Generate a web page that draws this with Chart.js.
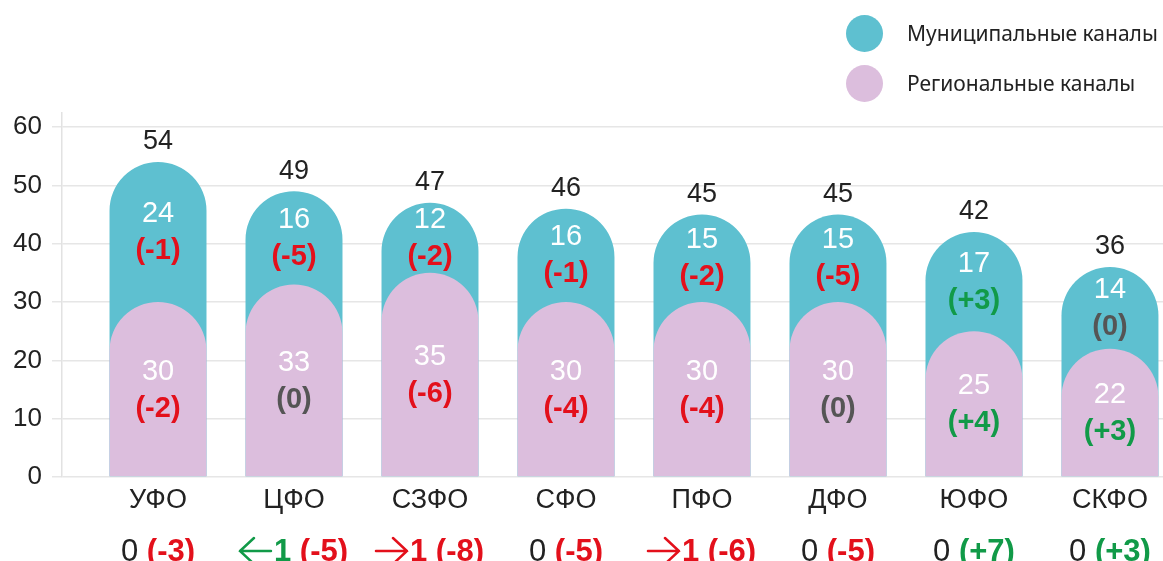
<!DOCTYPE html>
<html>
<head>
<meta charset="utf-8">
<script src="https://cdn.jsdelivr.net/npm/chart.js@4.4.1/dist/chart.umd.min.js"></script>
<style>
  html, body { margin: 0; padding: 0; background: #fff; }
  #wrap { position: relative; width: 1163px; height: 561px; }
  #legend { position: absolute; left: 846px; top: 8px; font-family: 'Noto Sans', sans-serif; font-size: 21px; color: #222; }
  .item { display: flex; align-items: center; height: 50px; }
  .dot { width: 37px; height: 37px; border-radius: 50%; margin-right: 24px; }
</style>
</head>
<body>
<div id="wrap">
  <canvas id="chart" width="1163" height="561"></canvas>
  <div id="legend"></div>
</div>
<script>
// данные
const categories = ['УФО', 'ЦФО', 'СЗФО', 'СФО', 'ПФО', 'ДФО', 'ЮФО', 'СКФО'];
const municipal = [24, 16, 12, 16, 15, 15, 17, 14];
const regional = [30, 33, 35, 30, 30, 30, 25, 22];
const municipalDelta = [-1, -5, -2, -1, -2, -5, 3, 0];
const regionalDelta = [-2, 0, -6, -4, -4, 0, 4, 3];
const placeShift = [0, 1, -1, 0, -1, 0, 0, 0];
const totalDelta = [-3, -5, -8, -5, -6, -5, 7, 3];
const yTicks = [0, 10, 20, 30, 40, 50, 60];

const totals = municipal.map((m, i) => m + regional[i]);

const TEAL = '#5EC0D0';
const PINK = '#DCBEDD';
const RED = '#E3101B';
const GREEN = '#119A48';
const GREY = '#555555';
const INK = '#222222';
const FONT = '"Liberation Sans", Arial, sans-serif';

// легенда
const legendItems = [
  { label: 'Муниципальные каналы', color: TEAL },
  { label: 'Региональные каналы', color: PINK },
];
document.getElementById('legend').innerHTML = legendItems
  .map(it => `<div class="item"><span class="dot" style="background:${it.color}"></span>${it.label}</div>`)
  .join('');

function deltaText(v) {
  return '(' + (v > 0 ? '+' + v : v) + ')';
}
function deltaColor(v) {
  return v > 0 ? GREEN : v < 0 ? RED : GREY;
}

function drawPair(ctx, x, mid, value, delta) {
  ctx.font = '29px ' + FONT;
  ctx.fillStyle = '#fff';
  ctx.fillText(value, x, mid - 18);
  ctx.font = 'bold 29px ' + FONT;
  ctx.fillStyle = deltaColor(delta);
  ctx.fillText(deltaText(delta), x, mid + 19);
}

function drawArrow(ctx, x, y, w, left, color) {
  ctx.save();
  ctx.strokeStyle = color;
  ctx.lineWidth = 2.5;
  ctx.lineCap = 'round';
  ctx.beginPath();
  const tip = left ? x : x + w;
  const back = left ? tip + 14 : tip - 14;
  ctx.moveTo(x, y); ctx.lineTo(x + w, y);
  ctx.moveTo(back, y - 13); ctx.lineTo(tip, y); ctx.lineTo(back, y + 13);
  ctx.stroke();
  ctx.restore();
}

const valueLabels = {
  id: 'valueLabels',
  afterDatasetsDraw(chart) {
    const ctx = chart.ctx;
    const pinkBars = chart.getDatasetMeta(0).data;
    const tealBars = chart.getDatasetMeta(1).data;
    const base = chart.scales.y.getPixelForValue(0);
    ctx.save();
    ctx.textAlign = 'center';
    ctx.textBaseline = 'middle';
    categories.forEach((c, i) => {
      const x = tealBars[i].x;
      const tTop = tealBars[i].y;
      const pTop = pinkBars[i].y;
      ctx.font = '27px ' + FONT;
      ctx.fillStyle = INK;
      ctx.fillText(totals[i], x, tTop - 20);
      drawPair(ctx, x, (tTop + pTop) / 2, municipal[i], municipalDelta[i]);
      drawPair(ctx, x, (pTop + base) / 2, regional[i], regionalDelta[i]);
    });

    // нижняя строка: смена места и общее изменение
    const rowY = 552;
    ctx.textAlign = 'left';
    categories.forEach((c, i) => {
      const x = tealBars[i].x;
      const shift = placeShift[i];
      const parts = [];
      if (shift === 0) {
        parts.push({ t: '0', font: '31px ' + FONT, color: INK });
      } else {
        const col = shift > 0 ? GREEN : RED;
        parts.push({ arrow: true, left: shift > 0, w: 31, color: col });
        parts.push({ t: String(Math.abs(shift)), font: 'bold 31px ' + FONT, color: col });
      }
      parts.push({ t: ' ', font: 'bold 31px ' + FONT, color: INK });
      parts.push({ t: deltaText(totalDelta[i]), font: 'bold 31px ' + FONT, color: deltaColor(totalDelta[i]) });
      let width = 0;
      parts.forEach(p => {
        if (p.arrow) { p.width = p.w + 3; } else { ctx.font = p.font; p.width = ctx.measureText(p.t).width; }
        width += p.width;
      });
      let cx = x - width / 2;
      parts.forEach(p => {
        if (p.arrow) {
          drawArrow(ctx, cx, rowY - 1, p.w, p.left, p.color);
        } else {
          ctx.font = p.font;
          ctx.fillStyle = p.color;
          ctx.fillText(p.t, cx, rowY);
        }
        cx += p.width;
      });
    });
    ctx.restore();
  },
};

const barCommon = {
  grouped: false,
  barPercentage: 0.713,
  categoryPercentage: 1,
  borderSkipped: 'start',
  borderRadius: { topLeft: 60, topRight: 60, bottomLeft: 0, bottomRight: 0 },
};

new Chart(document.getElementById('chart'), {
  type: 'bar',
  data: {
    datasets: [
      {
        ...barCommon,
        label: 'Региональные каналы',
        data: regional.map((v, i) => ({ x: i, y: v })),
        backgroundColor: PINK,
        order: 0,
      },
      {
        ...barCommon,
        label: 'Муниципальные каналы',
        data: totals.map((v, i) => ({ x: i, y: v })),
        backgroundColor: TEAL,
        order: 1,
      },
    ],
  },
  options: {
    responsive: false,
    animation: false,
    layout: { padding: { top: 113, left: 0, right: 0, bottom: 0 } },
    plugins: {
      legend: { display: false },
      tooltip: { enabled: false },
    },
    scales: {
      x: {
        type: 'linear',
        offset: false,
        min: -0.706,
        max: 7.39,
        grid: { display: false, drawTicks: false, offset: false },
        border: { display: false },
        afterBuildTicks: s => { s.ticks = categories.map((c, i) => ({ value: i })); },
        afterFit: s => { s.height = 84; },
        ticks: {
          autoSkip: false,
          maxRotation: 0,
          padding: 7,
          color: INK,
          font: { family: FONT, size: 27 },
          callback: v => categories[v],
        },
      },
      y: {
        min: 0,
        max: 62.4,
        afterBuildTicks: s => { s.ticks = yTicks.map(v => ({ value: v })); },
        afterFit: s => { s.width = 62; },
        grid: { color: '#e6e6e6', lineWidth: 1.5, tickLength: 10 },
        border: { color: '#e2e2e2', width: 1.5 },
        ticks: {
          padding: 10,
          color: INK,
          font: { family: FONT, size: 26 },
        },
      },
    },
  },
  plugins: [valueLabels],
});
</script>
</body>
</html>
